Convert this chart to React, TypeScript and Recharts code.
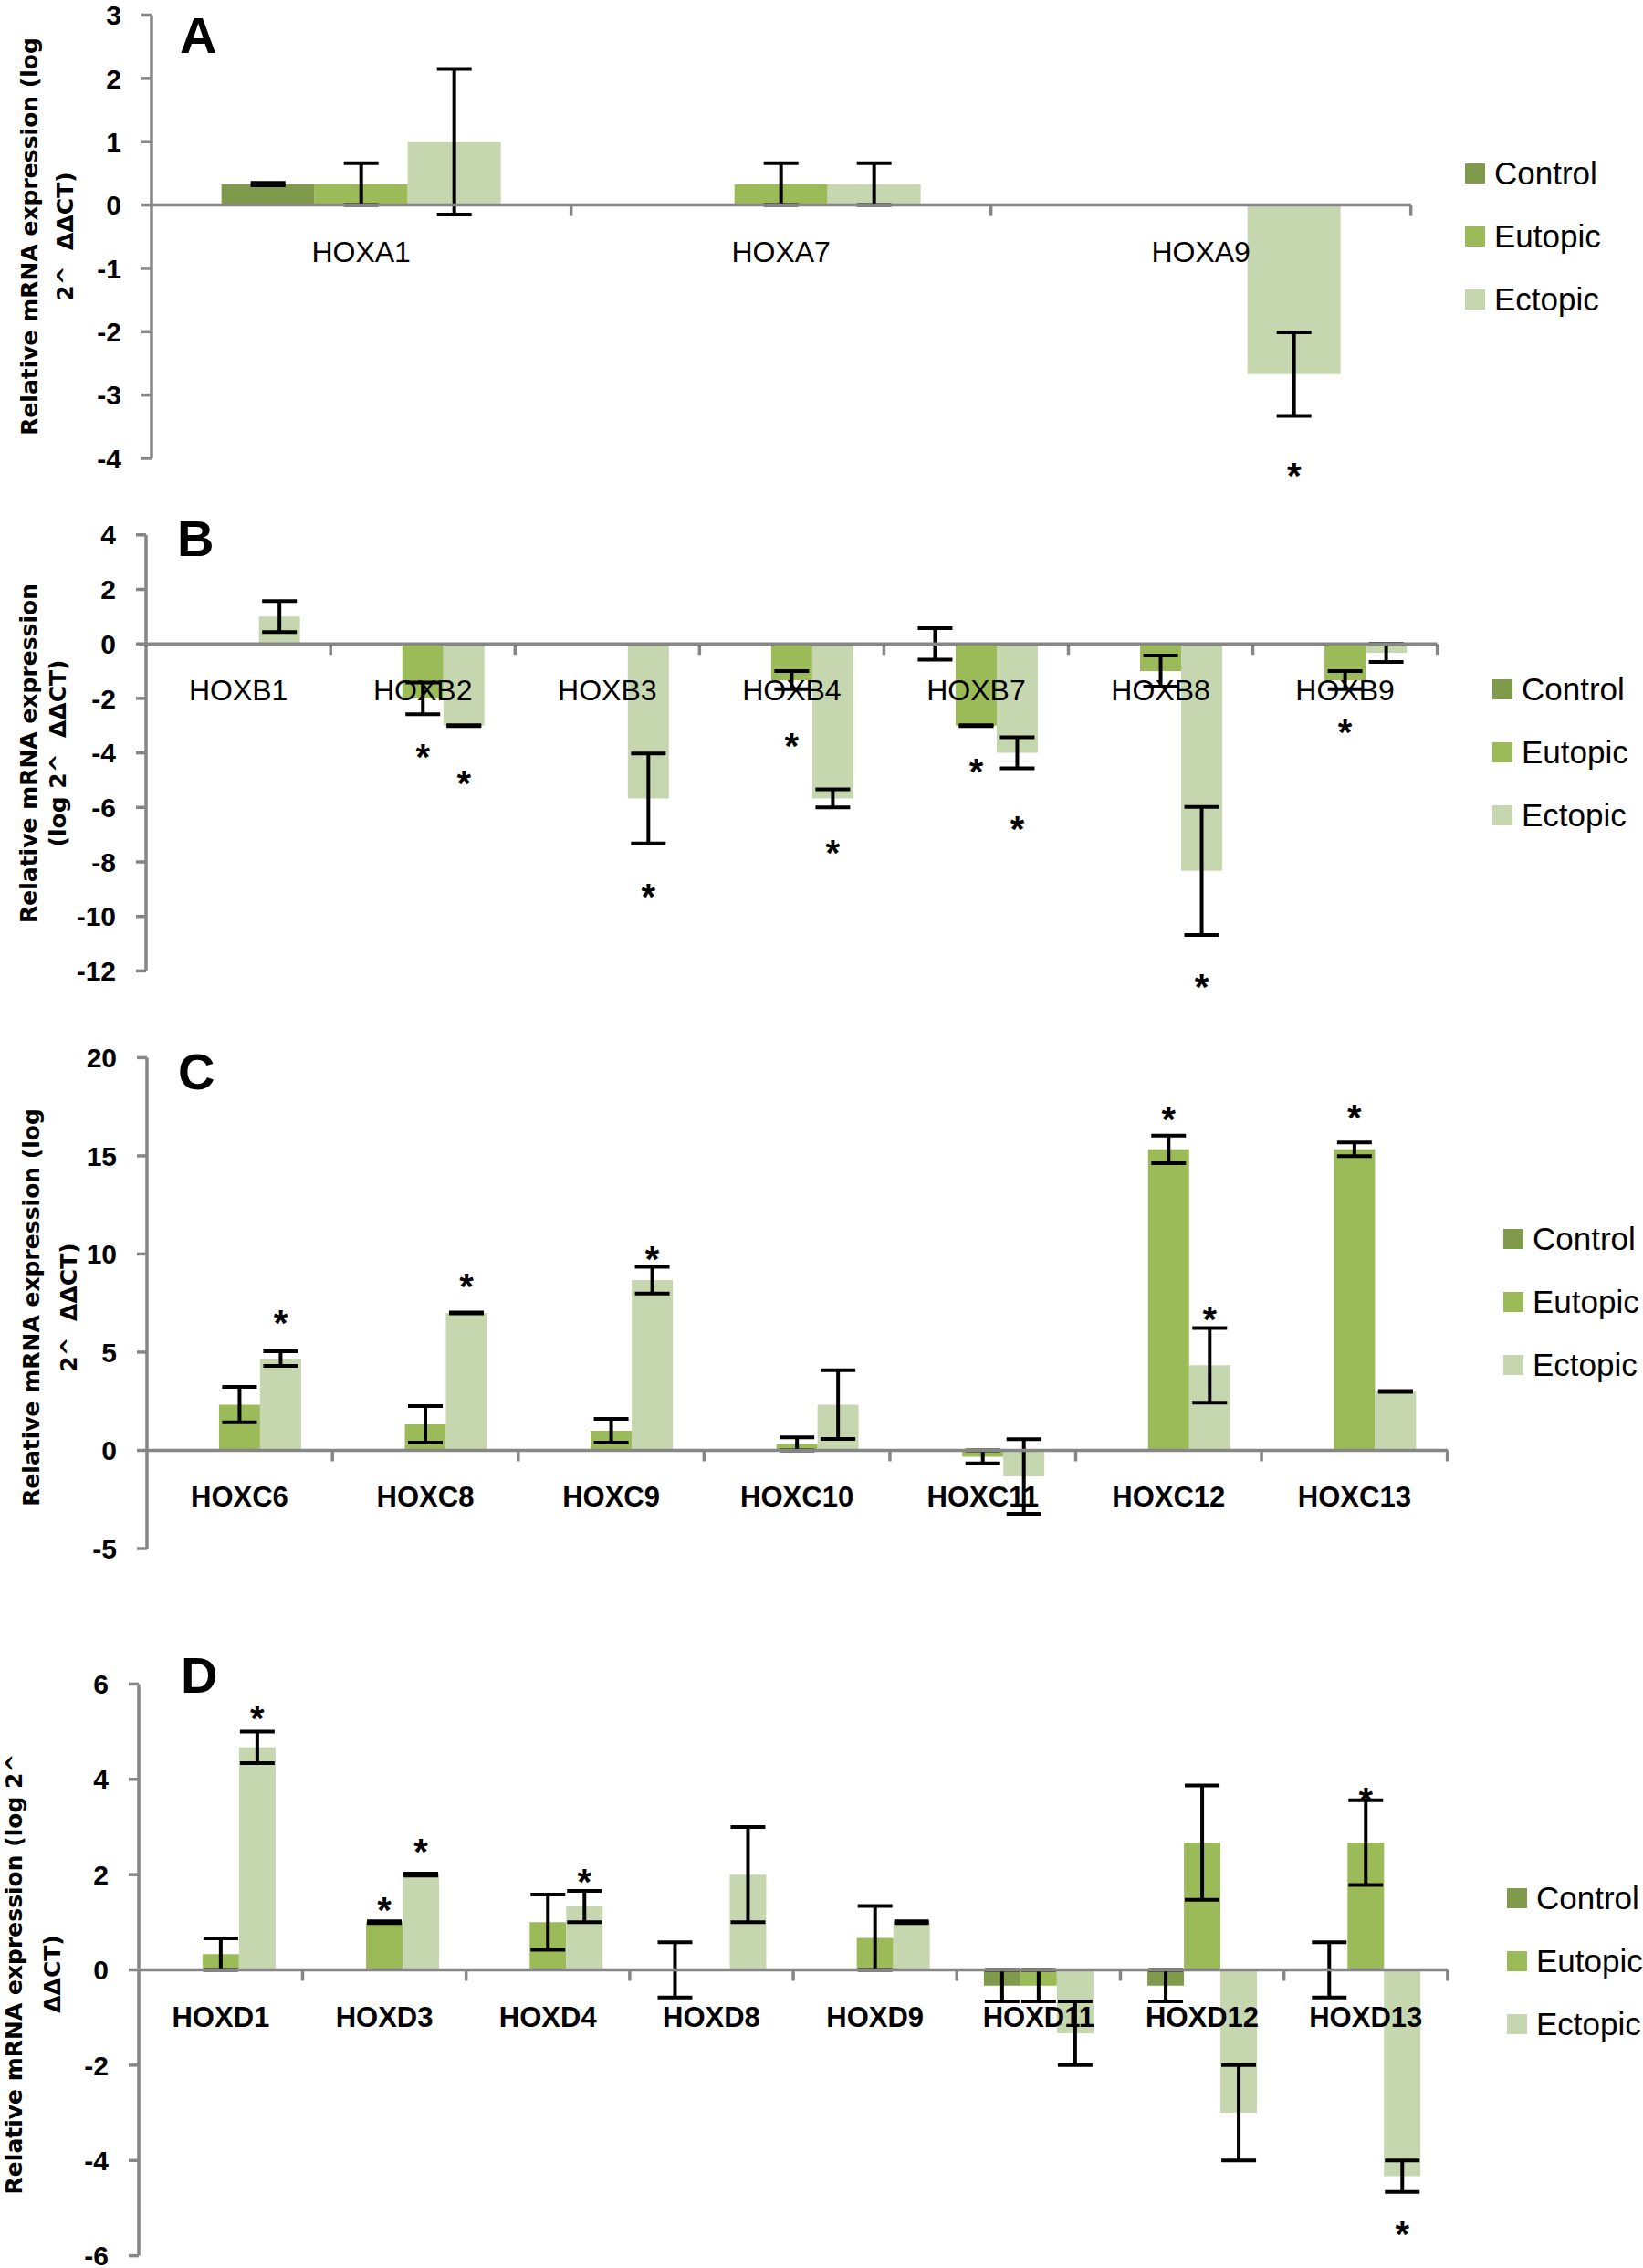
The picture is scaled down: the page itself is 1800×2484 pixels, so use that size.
import React from 'react';
import { BarChart, Bar, XAxis, YAxis, ErrorBar, LabelList, ReferenceLine, Legend } from 'recharts';

const FONT = '"Liberation Sans", Arial, sans-serif';
const TITLE_FONT = '"DejaVu Sans", Verdana, sans-serif';
const AXIS_GRAY = '#868686';

const SERIES = [
  { key: 'Control', err: 'cErr', star: 'cStar', color: '#7F9A4A' },
  { key: 'Eutopic', err: 'eErr', star: 'eStar', color: '#9BBB59' },
  { key: 'Ectopic', err: 'xErr', star: 'xStar', color: '#C6D7B0' },
];

// Panel A
const genesA = ['HOXA1', 'HOXA7', 'HOXA9'];
const controlA = [0.33, 0, 0];
const controlErrA = [0.02, null, null];
const eutopicA = [0.33, 0.33, 0];
const eutopicErrA = [0.33, 0.33, null];
const ectopicA = [1.0, 0.33, -2.67];
const ectopicErrA = [1.15, 0.33, 0.66];
const eutopicStarA = [null, null, null];
const ectopicStarA = [null, null, -4.14];
const ticksA = [-4, -3, -2, -1, 0, 1, 2, 3];

// Panel B
const genesB = ['HOXB1', 'HOXB2', 'HOXB3', 'HOXB4', 'HOXB7', 'HOXB8', 'HOXB9'];
const controlB = [0, 0, 0, 0, 0, 0, 0];
const controlErrB = [null, null, null, null, 0.58, null, null];
const eutopicB = [0, -2.0, 0, -1.33, -3.0, -1.0, -1.33];
const eutopicErrB = [null, 0.58, null, 0.33, 0.02, 0.57, 0.33];
const ectopicB = [1.0, -3.0, -5.67, -5.67, -4.0, -8.33, -0.33];
const ectopicErrB = [0.57, 0.02, 1.65, 0.33, 0.57, 2.35, 0.33];
const eutopicStarB = [null, -3.85, null, -3.45, -4.37, null, -2.93];
const ectopicStarB = [null, -4.83, -8.98, -7.36, -6.5, -12.3, null];
const ticksB = [-12, -10, -8, -6, -4, -2, 0, 2, 4];

// Panel C
const genesC = ['HOXC6', 'HOXC8', 'HOXC9', 'HOXC10', 'HOXC11', 'HOXC12', 'HOXC13'];
const controlC = [0, 0, 0, 0, 0, 0, 0];
const controlErrC = [null, null, null, null, null, null, null];
const eutopicC = [2.33, 1.33, 1.0, 0.33, -0.33, 15.33, 15.33];
const eutopicErrC = [0.9, 0.93, 0.6, 0.33, 0.33, 0.7, 0.35];
const ectopicC = [4.67, 7.0, 8.67, 2.33, -1.33, 4.33, 3.0];
const ectopicErrC = [0.37, 0.02, 0.68, 1.75, 1.9, 1.9, 0.02];
const eutopicStarC = [null, null, null, null, null, 17.27, 17.36];
const ectopicStarC = [6.9, 8.77, 10.16, null, null, 7.1, null];
const ticksC = [-5, 0, 5, 10, 15, 20];

// Panel D
const genesD = ['HOXD1', 'HOXD3', 'HOXD4', 'HOXD8', 'HOXD9', 'HOXD11', 'HOXD12', 'HOXD13'];
const controlD = [0, 0, 0, 0, 0, -0.33, -0.33, 0];
const controlErrD = [null, null, null, 0.58, null, 0.33, 0.33, 0.58];
const eutopicD = [0.33, 1.0, 1.0, 0, 0.67, -0.33, 2.67, 2.67];
const eutopicErrD = [0.33, 0.02, 0.58, null, 0.67, 0.33, 1.2, 0.89];
const ectopicD = [4.67, 2.0, 1.33, 2.0, 1.0, -1.33, -3.0, -4.33];
const ectopicErrD = [0.33, 0.02, 0.33, 1.0, 0.02, 0.67, 1.0, 0.33];
const eutopicStarD = [null, 1.43, null, null, null, null, null, 3.72];
const ectopicStarD = [5.46, 2.65, 2.03, null, null, null, null, -5.38];
const ticksD = [-6, -4, -2, 0, 2, 4, 6];

type N = number | null;

function rowsOf(genes: string[], control: number[], controlErr: N[], eutopic: number[], eutopicErr: N[],
  ectopic: number[], ectopicErr: N[], eutopicStar: N[], ectopicStar: N[]) {
  return genes.map((gene, i) => ({
    gene,
    Control: control[i], Eutopic: eutopic[i], Ectopic: ectopic[i],
    cErr: controlErr[i], eErr: eutopicErr[i], xErr: ectopicErr[i],
    cStar: null, eStar: eutopicStar[i], xStar: ectopicStar[i],
  }));
}

const PANELS = [
  {
    letter: 'A', top: 0, height: 560, plotTop: 16.5, plotBottom: 502, plotLeft: 166, plotRight: 1546,
    domain: [-4, 3], ticks: ticksA,
    rows: rowsOf(genesA, controlA, controlErrA, eutopicA, eutopicErrA, ectopicA, ectopicErrA, eutopicStarA, ectopicStarA),
    title: ['Relative mRNA expression (log', '2^\u00A0\u00A0ΔΔCT)'], titleX: [32, 71], titleY: 259,
    letterX: 197, letterY: 58, labelSize: 32, labelWeight: 'normal', legendX: 1605, legendMid: 259,
  },
  {
    letter: 'B', top: 530, height: 590, plotTop: 585.8, plotBottom: 1063.4, plotLeft: 160, plotRight: 1574.5,
    domain: [-12, 4], ticks: ticksB,
    rows: rowsOf(genesB, controlB, controlErrB, eutopicB, eutopicErrB, ectopicB, ectopicErrB, eutopicStarB, ectopicStarB),
    title: ['Relative mRNA expression', '(log 2^\u00A0\u00A0ΔΔCT)'], titleX: [31, 63], titleY: 825,
    letterX: 194, letterY: 609, labelSize: 32, labelWeight: 'normal', legendX: 1635, legendMid: 824,
  },
  {
    letter: 'C', top: 1100, height: 640, plotTop: 1158.4, plotBottom: 1696, plotLeft: 161, plotRight: 1586,
    domain: [-5, 20], ticks: ticksC,
    rows: rowsOf(genesC, controlC, controlErrC, eutopicC, eutopicErrC, ectopicC, ectopicErrC, eutopicStarC, ectopicStarC),
    title: ['Relative mRNA expression (log', '2^\u00A0\u00A0ΔΔCT)'], titleX: [34, 75], titleY: 1432,
    letterX: 195, letterY: 1193, labelSize: 31, labelWeight: 'bold', legendX: 1647, legendMid: 1426,
  },
  {
    letter: 'D', top: 1720, height: 764, plotTop: 1844.4, plotBottom: 2470.6, plotLeft: 152, plotRight: 1585.6,
    domain: [-6, 6], ticks: ticksD,
    rows: rowsOf(genesD, controlD, controlErrD, eutopicD, eutopicErrD, ectopicD, ectopicErrD, eutopicStarD, ectopicStarD),
    title: ['Relative mRNA expression (log 2^', 'ΔΔCT)'], titleX: [15, 57], titleY: 2162,
    letterX: 198, letterY: 1854, labelSize: 31, labelWeight: 'bold', legendX: 1651, legendMid: 2148,
  },
];

// zero line and bar end, read back from the bar the library drew
function barGeom(p: any, v: number) {
  const vb = p.viewBox ?? p;
  const x = Number(vb.x), y = Number(vb.y), w = Number(vb.width), h = Number(vb.height);
  let zeroY = y + h;
  let endY = y;
  if (v < 0 && h >= 0) { zeroY = y; endY = y + h; }
  return { cx: x + w / 2, w, zeroY, endY };
}

function starContent(rows: any[], starKey: string, valueKey: string) {
  return (p: any) => {
    const row = rows.find(r => r.gene === p.value) ?? rows[p.index];
    if (!row) return null;
    const s = row[starKey];
    const v = row[valueKey];
    if (s == null || !v) return null;
    const g = barGeom(p, v);
    const cy = g.zeroY - ((g.zeroY - g.endY) / v) * s;
    return (
      <text x={g.cx} y={cy + 23} textAnchor="middle" fontSize={40} fontWeight="bold" fontFamily={FONT} fill="#000">*</text>
    );
  };
}

// gene names and category tick marks, hung on the Ectopic bar (third of three)
function categoryContent(cfg: any) {
  return (p: any) => {
    const row = cfg.rows.find((r: any) => r.gene === p.value) ?? cfg.rows[p.index];
    if (!row) return null;
    const g = barGeom(p, row.Ectopic);
    const cx = g.cx - g.w;
    const band = (cfg.plotRight - cfg.plotLeft) / cfg.rows.length;
    const tx = cx + band / 2;
    return (
      <g>
        <line x1={tx} x2={tx} y1={g.zeroY} y2={g.zeroY + 12} stroke={AXIS_GRAY} strokeWidth={3.5} />
        <text x={cx} y={g.zeroY + 62} textAnchor="middle" fontSize={cfg.labelSize} fontWeight={cfg.labelWeight}
          fontFamily={FONT} fill="#000">{row.gene}</text>
      </g>
    );
  };
}

function Panel({ cfg }: { cfg: any }) {
  const title = () => (
    <g>
      {cfg.title.map((line: string, i: number) => (
        <text key={i} transform={`translate(${cfg.titleX[i]}, ${cfg.titleY - cfg.top}) rotate(-90)`}
          textAnchor="middle" dominantBaseline="central" fontSize={25} fontWeight="bold" fontFamily={TITLE_FONT} fill="#000">
          {line}
        </text>
      ))}
      <text x={cfg.letterX} y={cfg.letterY - cfg.top} fontSize={56} fontWeight="bold" fontFamily={FONT} fill="#000">
        {cfg.letter}
      </text>
    </g>
  );

  const legend = () => (
    <div style={{ fontFamily: FONT, fontSize: 35, color: '#000' }}>
      {SERIES.map(s => (
        <div key={s.key} style={{ height: 69, display: 'flex', alignItems: 'center' }}>
          <span style={{ width: 22, height: 22, background: s.color, display: 'inline-block', marginRight: 10 }} />
          <span>{s.key}</span>
        </div>
      ))}
    </div>
  );

  return (
    <div style={{ position: 'absolute', left: 0, top: cfg.top }}>
      <BarChart
        width={1800}
        height={cfg.height}
        data={cfg.rows}
        margin={{ top: cfg.plotTop - cfg.top, bottom: cfg.top + cfg.height - cfg.plotBottom, left: 0, right: 1800 - cfg.plotRight }}
        barCategoryGap="16.667%"
        barGap={0}
      >
        <XAxis dataKey="gene" hide />
        <YAxis
          width={cfg.plotLeft}
          type="number"
          domain={cfg.domain}
          ticks={cfg.ticks}
          interval={0}
          axisLine={{ stroke: AXIS_GRAY, strokeWidth: 3.5 }}
          tickLine={{ stroke: AXIS_GRAY, strokeWidth: 3.5 }}
          tickSize={11}
          tickMargin={22}
          tick={{ fill: '#000', fontSize: 30, fontWeight: 'bold', fontFamily: FONT }}
          label={title}
        />
        {SERIES.map(s => (
          <Bar key={s.key} dataKey={s.key} name={s.key} fill={s.color} minPointSize={1} isAnimationActive={false}>
            <ErrorBar dataKey={s.err} direction="y" width={19} strokeWidth={4} stroke="#000" isAnimationActive={false} />
            <LabelList dataKey="gene" content={starContent(cfg.rows, s.star, s.key)} />
            {s.key === 'Ectopic' && <LabelList dataKey="gene" content={categoryContent(cfg)} />}
          </Bar>
        ))}
        <ReferenceLine y={0} stroke={AXIS_GRAY} strokeWidth={3.5} />
        <Legend
          layout="vertical"
          align="center"
          verticalAlign="middle"
          wrapperStyle={{ left: cfg.legendX, top: cfg.legendMid - cfg.top - 103.5, width: 220 }}
          content={legend}
        />
      </BarChart>
    </div>
  );
}

export default function App() {
  return (
    <div style={{ position: 'absolute', left: 0, top: 0, width: 1800, height: 2484, background: '#fff', overflow: 'hidden' }}>
      {PANELS.map(cfg => (
        <Panel key={cfg.letter} cfg={cfg} />
      ))}
    </div>
  );
}
